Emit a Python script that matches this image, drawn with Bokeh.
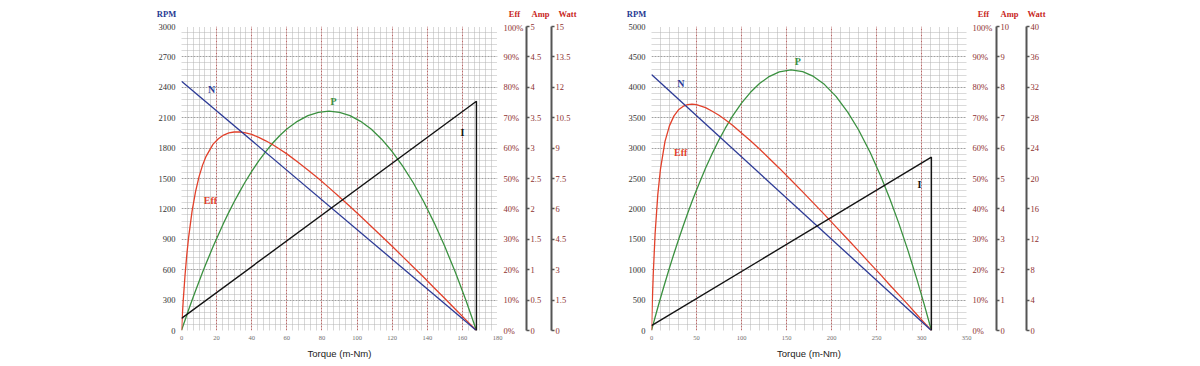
from bokeh.plotting import figure
from bokeh.models import Range1d, LinearAxis, FixedTicker, Label
from bokeh.layouts import row, column
from bokeh.core.properties import value
from bokeh.embed import file_html
from bokeh.resources import INLINE

# ---------------- Motor 1 (left chart) ----------------
m1_speed_torque = [0, 168]
m1_speed_rpm = [2460, 0]
m1_current_torque = [0, 168, 168]
m1_current_amp = [0.2, 3.77, 0]
m1_torque = [0, 0.5, 1, 2, 3, 4, 6, 8, 10, 12, 14, 18, 21, 24, 27, 30, 33, 36, 40, 44,
             48, 52, 56, 60, 66, 72, 78, 84, 90, 96, 102, 108, 114, 120, 126, 132, 138,
             144, 150, 156, 162, 168]
m1_eff = [0, 5.3, 10.0, 18.1, 24.8, 30.4, 39.2, 45.7, 50.6, 54.4, 57.3, 61.3, 63.1, 64.3,
          65.0, 65.3, 65.3, 65.1, 64.5, 63.5, 62.4, 61.1, 59.6, 58.1, 55.5, 52.8, 50.0,
          47.0, 43.9, 40.8, 37.6, 34.3, 31.0, 27.7, 24.3, 20.9, 17.5, 14.0, 10.5, 7.0,
          3.5, 0]
m1_power = [0, 0.13, 0.26, 0.51, 0.76, 1.01, 1.49, 1.96, 2.42, 2.87, 3.31, 4.14, 4.73,
            5.30, 5.84, 6.35, 6.83, 7.29, 7.85, 8.37, 8.83, 9.25, 9.62, 9.94, 10.32,
            10.60, 10.76, 10.82, 10.76, 10.60, 10.32, 9.94, 9.44, 8.83, 8.11, 7.29, 6.35,
            5.30, 4.14, 2.87, 1.49, 0]
m1_x_ticks = [0, 20, 40, 60, 80, 100, 120, 140, 160, 180]
m1_x_labels = ["0", "20", "40", "60", "80", "100", "120", "140", "160", "180"]
m1_rpm_ticks = [0, 300, 600, 900, 1200, 1500, 1800, 2100, 2400, 2700, 3000]
m1_rpm_labels = ["0", "300", "600", "900", "1200", "1500", "1800", "2100", "2400", "2700", "3000"]
m1_amp_ticks = [0, 0.5, 1, 1.5, 2, 2.5, 3, 3.5, 4, 4.5, 5]
m1_amp_labels = ["0", "0.5", "1", "1.5", "2", "2.5", "3", "3.5", "4", "4.5", "5"]
m1_watt_ticks = [0, 1.5, 3, 4.5, 6, 7.5, 9, 10.5, 12, 13.5, 15]
m1_watt_labels = ["0", "1.5", "3", "4.5", "6", "7.5", "9", "10.5", "12", "13.5", "15"]

# ---------------- Motor 2 (right chart) ----------------
m2_speed_torque = [0, 311]
m2_speed_rpm = [4210, 0]
m2_current_torque = [0, 311, 311]
m2_current_amp = [0.16, 5.7, 0]
m2_torque = [0, 1, 2, 4, 7, 10, 15, 20, 25, 30, 35, 40, 45, 50, 60, 67, 75, 82, 90, 100,
             110, 120, 130, 142, 155, 168, 180, 192, 205, 218, 230, 243, 255, 265, 275,
             285, 295, 303, 311]
m2_eff = [0, 10.4, 18.9, 31.8, 44.7, 53.2, 62.2, 67.4, 70.6, 72.6, 73.7, 74.3, 74.5, 74.3,
          73.3, 72.2, 70.8, 69.3, 67.5, 65.0, 62.4, 59.7, 56.8, 53.4, 49.5, 45.6, 41.9,
          38.2, 34.1, 30.0, 26.2, 22.0, 18.2, 14.9, 11.7, 8.5, 5.2, 2.6, 0]
m2_power = [0, 0.44, 0.88, 1.74, 3.02, 4.27, 6.29, 8.25, 10.14, 11.95, 13.69, 15.37,
            16.97, 18.50, 21.35, 23.17, 25.09, 26.62, 28.20, 29.91, 31.34, 32.49, 33.36,
            34.02, 34.28, 34.06, 33.43, 32.39, 30.80, 28.74, 26.41, 23.42, 20.24, 17.28,
            14.03, 10.51, 6.69, 3.44, 0]
m2_x_ticks = [0, 50, 100, 150, 200, 250, 300, 350]
m2_x_labels = ["0", "50", "100", "150", "200", "250", "300", "350"]
m2_rpm_ticks = [0, 500, 1000, 1500, 2000, 2500, 3000, 3500, 4000, 4500, 5000]
m2_rpm_labels = ["0", "500", "1000", "1500", "2000", "2500", "3000", "3500", "4000", "4500", "5000"]
m2_amp_ticks = [0, 1, 2, 3, 4, 5, 6, 7, 8, 9, 10]
m2_amp_labels = ["0", "1", "2", "3", "4", "5", "6", "7", "8", "9", "10"]
m2_watt_ticks = [0, 4, 8, 12, 16, 20, 24, 28, 32, 36, 40]
m2_watt_labels = ["0", "4", "8", "12", "16", "20", "24", "28", "32", "36", "40"]

eff_ticks = [0, 10, 20, 30, 40, 50, 60, 70, 80, 90, 100]
eff_labels = ["0%", "10%", "20%", "30%", "40%", "50%", "60%", "70%", "80%", "90%", "100%"]

axis_titles = ["RPM", "Eff", "Amp", "Watt"]
x_title = "Torque (m-Nm)"

BLUE = "#2c3a96"
RED = "#e2412b"
GREEN = "#3b9140"
BLACK = "#141414"
SERIF = "Liberation Serif"
TICK_RED = "#8e3030"
TITLE_RED = "#c8261c"
TITLE_BLUE = "#1f3a93"

# layout (page pixels)
HEADER_H = 22
TOP = 4
FRAME_H = 304
BOTTOM = 34
F1_LEFT, F1_W = 181, 316
F2_LEFT, F2_W = 651, 315
P1_W = 604
P2_W = 588


def minor(major, n):
    out = []
    for a, b in zip(major[:-1], major[1:]):
        for k in range(1, n):
            out.append(a + (b - a) * k / n)
    return out


def build(width, left, right, xt, xl, rt, rl, at, al, wt, wl, xsub,
          st, sr, ct, ca, tq, ef, pw, lab_pos, eff_pad, amp_pad):
    p = figure(width=width, height=TOP + FRAME_H + BOTTOM, min_border_left=left,
               min_border_right=right, min_border_top=TOP, min_border_bottom=BOTTOM,
               x_range=Range1d(xt[0], xt[-1]), y_range=Range1d(rt[0], rt[-1]),
               output_backend="svg", toolbar_location=None)
    p.outline_line_color = None
    p.extra_y_ranges = {"eff": Range1d(0, 100), "amp": Range1d(at[0], at[-1]),
                        "watt": Range1d(wt[0], wt[-1])}

    # grids
    p.xgrid.ticker = FixedTicker(ticks=xt, minor_ticks=minor(xt, xsub))
    p.xgrid.grid_line_color = "#b86a6a"
    p.xgrid.grid_line_dash = "2 1"
    p.xgrid.grid_line_width = 1
    p.xgrid.minor_grid_line_color = "#b0b0b0"
    p.xgrid.minor_grid_line_dash = "1 1"
    p.ygrid.ticker = FixedTicker(ticks=rt, minor_ticks=minor(rt, 5))
    p.ygrid.grid_line_color = "#a0a0a0"
    p.ygrid.grid_line_dash = "2 1"
    p.ygrid.minor_grid_line_color = "#b4b4b4"
    p.ygrid.minor_grid_line_dash = "1 1"

    # x axis
    xa = p.xaxis[0]
    xa.ticker = FixedTicker(ticks=xt)
    xa.major_label_overrides = dict(zip(xt, xl))
    xa.axis_line_color = None
    xa.major_tick_line_color = None
    xa.minor_tick_line_color = None
    xa.major_tick_out = 0
    xa.major_label_standoff = 5
    xa.major_label_text_font = SERIF
    xa.major_label_text_font_size = "6.5px"
    xa.major_label_text_color = "#707070"
    xa.axis_label = x_title
    xa.axis_label_text_font = "Liberation Sans"
    xa.axis_label_text_font_size = "9.5px"
    xa.axis_label_text_font_style = "normal"
    xa.axis_label_text_color = "#222222"
    xa.axis_label_standoff = 5

    # left rpm axis
    ya = p.yaxis[0]
    ya.ticker = FixedTicker(ticks=rt)
    ya.major_label_overrides = dict(zip(rt, rl))
    ya.axis_line_color = None
    ya.major_tick_line_color = None
    ya.minor_tick_line_color = None
    ya.major_tick_out = 0
    ya.major_label_standoff = 6
    ya.major_label_text_font = SERIF
    ya.major_label_text_font_size = "8.5px"
    ya.major_label_text_color = "#333333"

    # eff axis
    ea = LinearAxis(y_range_name="eff", ticker=FixedTicker(ticks=eff_ticks),
                    major_label_overrides=dict(zip(eff_ticks, eff_labels)))
    ea.axis_line_color = None
    ea.major_tick_line_color = None
    ea.minor_tick_line_color = None
    ea.major_tick_out = 0
    ea.major_label_standoff = 6
    ea.major_label_text_font = SERIF
    ea.major_label_text_font_size = "8.5px"
    ea.major_label_text_color = TICK_RED
    ea.axis_label = "\u00a0"
    ea.axis_label_text_font_size = "1px"
    ea.axis_label_standoff = eff_pad
    p.add_layout(ea, "right")

    for rname, tk, tl, pad in (("amp", at, al, amp_pad), ("watt", wt, wl, None)):
        ax = LinearAxis(y_range_name=rname, ticker=FixedTicker(ticks=tk),
                        major_label_overrides=dict(zip(tk, tl)))
        ax.axis_line_color = "#555555"
        ax.axis_line_width = 2
        ax.major_tick_line_color = "#555555"
        ax.major_tick_line_width = 1.5
        ax.major_tick_out = 3
        ax.major_tick_in = 0
        ax.minor_tick_line_color = None
        ax.major_label_standoff = 1
        ax.major_label_text_font = SERIF
        ax.major_label_text_font_size = "8.5px"
        ax.major_label_text_color = TICK_RED
        if pad is not None:
            ax.axis_label = "\u00a0"
            ax.axis_label_text_font_size = "1px"
            ax.axis_label_standoff = pad
        p.add_layout(ax, "right")

    # curves
    p.line(tq, pw, y_range_name="watt", line_color=GREEN, line_width=1.3, line_join="round")
    p.line(tq, ef, y_range_name="eff", line_color=RED, line_width=1.3, line_join="round")
    p.line(st, sr, line_color=BLUE, line_width=1.3)
    p.line(ct, ca, y_range_name="amp", line_color=BLACK, line_width=1.4)

    # curve labels
    for (tx, ty, txt, col, size) in lab_pos:
        p.add_layout(Label(x=tx, y=ty, text=txt, text_color=col, text_font=SERIF,
                           text_font_style="bold", text_font_size=size,
                           text_align="center", text_baseline="middle"))
    return p


# header with the axis titles (centred 13 px above the plot frames)
hx = [F1_LEFT - 15, F1_LEFT + F1_W + 17, F1_LEFT + F1_W + 43, F1_LEFT + F1_W + 70,
      F2_LEFT - 15, F2_LEFT + F2_W + 17, F2_LEFT + F2_W + 43, F2_LEFT + F2_W + 70]
htxt = axis_titles + axis_titles
hcol = [TITLE_BLUE, TITLE_RED, TITLE_RED, TITLE_RED] * 2
header = figure(width=P1_W + P2_W, height=HEADER_H, x_range=Range1d(0, P1_W + P2_W),
                y_range=Range1d(0, HEADER_H), x_axis_type=None, y_axis_type=None,
                min_border=0, output_backend="svg", toolbar_location=None)
header.outline_line_color = None
header.grid.visible = False
header.text(x=hx, y=[HEADER_H - 13] * 8, text=htxt, text_color=hcol,
            text_font=value(SERIF), text_font_style="bold", text_font_size="8.5px",
            text_align="center", text_baseline="middle")

p1 = build(P1_W, F1_LEFT, P1_W - F1_LEFT - F1_W, m1_x_ticks, m1_x_labels, m1_rpm_ticks,
           m1_rpm_labels, m1_amp_ticks, m1_amp_labels, m1_watt_ticks, m1_watt_labels, 6,
           m1_speed_torque, m1_speed_rpm, m1_current_torque, m1_current_amp,
           m1_torque, m1_eff, m1_power,
           [(17.1, 2378, "N", BLUE, "10px"), (86.6, 2260, "P", GREEN, "10px"),
            (16.5, 1283, "Eff", RED, "10px"), (160, 1954, "I", BLACK, "10px")],
           -4, 3)
p2 = build(P2_W, F2_LEFT - P1_W, P2_W - (F2_LEFT - P1_W) - F2_W, m2_x_ticks, m2_x_labels,
           m2_rpm_ticks, m2_rpm_labels, m2_amp_ticks, m2_amp_labels, m2_watt_ticks,
           m2_watt_labels, 5,
           m2_speed_torque, m2_speed_rpm, m2_current_torque, m2_current_amp,
           m2_torque, m2_eff, m2_power,
           [(32.5, 4062, "N", BLUE, "10px"), (162.5, 4424, "P", GREEN, "10px"),
            (32.5, 2928, "Eff", RED, "10px"), (297.8, 2401, "I", BLACK, "10px")],
           -3, 10)

layout = column(header, row(p1, p2))
open("out.html", "w").write(file_html(layout, INLINE))
